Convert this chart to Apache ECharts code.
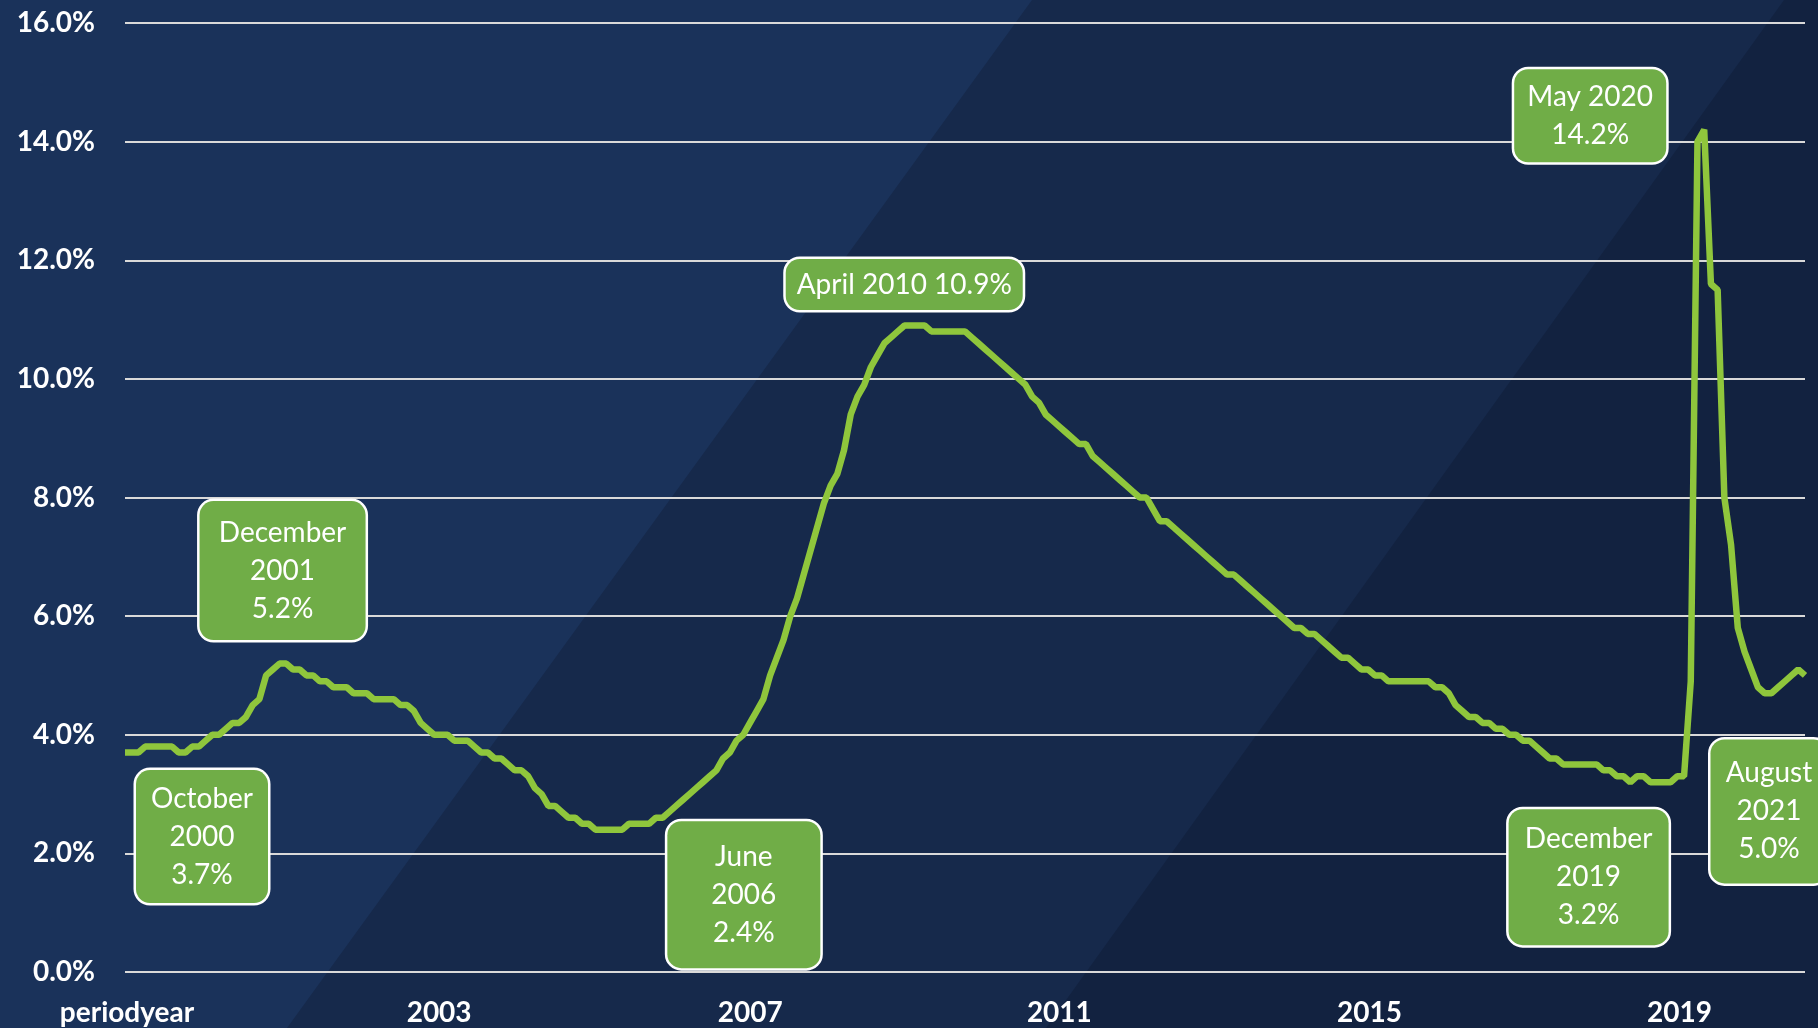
<!DOCTYPE html>
<html>
<head>
<meta charset="utf-8">
<title>Unemployment rate</title>
<script src="https://cdn.jsdelivr.net/npm/echarts@6.0.0/dist/echarts.min.js"></script>
<style>
  html, body { margin: 0; padding: 0; background: #16294b; }
  #chart { width: 1818px; height: 1028px; }
</style>
</head>
<body>
<div id="chart"></div>
<script type="text/javascript">
// monthly rate (%), October 2000 .. August 2021
var values = [
  3.7, 3.7, 3.7, 3.8, 3.8, 3.8, 3.8, 3.8, 3.7, 3.7,
  3.8, 3.8, 3.9, 4.0, 4.0, 4.1, 4.2, 4.2, 4.3, 4.5,
  4.6, 5.0, 5.1, 5.2, 5.2, 5.1, 5.1, 5.0, 5.0, 4.9,
  4.9, 4.8, 4.8, 4.8, 4.7, 4.7, 4.7, 4.6, 4.6, 4.6,
  4.6, 4.5, 4.5, 4.4, 4.2, 4.1, 4.0, 4.0, 4.0, 3.9,
  3.9, 3.9, 3.8, 3.7, 3.7, 3.6, 3.6, 3.5, 3.4, 3.4,
  3.3, 3.1, 3.0, 2.8, 2.8, 2.7, 2.6, 2.6, 2.5, 2.5,
  2.4, 2.4, 2.4, 2.4, 2.4, 2.5, 2.5, 2.5, 2.5, 2.6,
  2.6, 2.7, 2.8, 2.9, 3.0, 3.1, 3.2, 3.3, 3.4, 3.6,
  3.7, 3.9, 4.0, 4.2, 4.4, 4.6, 5.0, 5.3, 5.6, 6.0,
  6.3, 6.7, 7.1, 7.5, 7.9, 8.2, 8.4, 8.8, 9.4, 9.7,
  9.9, 10.2, 10.4, 10.6, 10.7, 10.8, 10.9, 10.9, 10.9, 10.9,
  10.8, 10.8, 10.8, 10.8, 10.8, 10.8, 10.7, 10.6, 10.5, 10.4,
  10.3, 10.2, 10.1, 10.0, 9.9, 9.7, 9.6, 9.4, 9.3, 9.2,
  9.1, 9.0, 8.9, 8.9, 8.7, 8.6, 8.5, 8.4, 8.3, 8.2,
  8.1, 8.0, 8.0, 7.8, 7.6, 7.6, 7.5, 7.4, 7.3, 7.2,
  7.1, 7.0, 6.9, 6.8, 6.7, 6.7, 6.6, 6.5, 6.4, 6.3,
  6.2, 6.1, 6.0, 5.9, 5.8, 5.8, 5.7, 5.7, 5.6, 5.5,
  5.4, 5.3, 5.3, 5.2, 5.1, 5.1, 5.0, 5.0, 4.9, 4.9,
  4.9, 4.9, 4.9, 4.9, 4.9, 4.8, 4.8, 4.7, 4.5, 4.4,
  4.3, 4.3, 4.2, 4.2, 4.1, 4.1, 4.0, 4.0, 3.9, 3.9,
  3.8, 3.7, 3.6, 3.6, 3.5, 3.5, 3.5, 3.5, 3.5, 3.5,
  3.4, 3.4, 3.3, 3.3, 3.2, 3.3, 3.3, 3.2, 3.2, 3.2,
  3.2, 3.3, 3.3, 4.9, 14.0, 14.2, 11.6, 11.5, 8.0, 7.2,
  5.8, 5.4, 5.1, 4.8, 4.7, 4.7, 4.8, 4.9, 5.0, 5.1, 5.0
];

var monthNames = ['January', 'February', 'March', 'April', 'May', 'June', 'July',
  'August', 'September', 'October', 'November', 'December'];
var categories = values.map(function (v, i) {
  var m = 9 + i;
  return monthNames[m % 12] + ' ' + (2000 + Math.floor(m / 12));
});

// x tick labels as printed, one every labelStep months
var tickLabels = ['periodyear', '2003', '2007', '2011', '2015', '2019'];
var labelStep = 46;

// callouts
var annoIndex = [0, 23, 72, 117, 235, 230, 250];
var annoText = [
  'October\n2000\n3.7%',
  'December\n2001\n5.2%',
  'June\n2006\n2.4%',
  'April 2010 10.9%',
  'May 2020\n14.2%',
  'December\n2019\n3.2%',
  'August\n2021\n5.0%'
];

// callout box placement: offset from point, width, vertical padding
var annoBox = [
  { offset: [77, 84], w: 132, pad: 9.5 },
  { offset: [3, -93], w: 166, pad: 12.5 },
  { offset: [135, 65], w: 153, pad: 16.5 },
  { offset: [-7, -41], w: 237, pad: 6.5 },
  { offset: [-114, -14], w: 152, pad: 8.5 },
  { offset: [-82, 95], w: 160, pad: 11 },
  { offset: [-36, 136], w: 117, pad: 15 }
];

// small nudge of the year labels (px), the original places them a bit right
var labelNudge = [2, 5, 7, 7, 8, 9];

var labelFont = { color: '#ffffff', fontFamily: 'Lato', fontWeight: 'bold', fontSize: 28 };
var xRich = {};
labelNudge.forEach(function (n, k) {
  xRich['s' + k] = Object.assign({ padding: [0, 0, 0, 2 * n] }, labelFont);
});

var chart = echarts.init(document.getElementById('chart'));

var option = {
  animation: false,
  backgroundColor: '#16294b',
  graphic: [
    {
      type: 'polygon', z: -10, silent: true,
      shape: { points: [[0, 0], [1032, 0], [287, 1028], [0, 1028]] },
      style: { fill: '#1a325a' }
    },
    {
      type: 'polygon', z: -10, silent: true,
      shape: { points: [[1784, 0], [1818, 0], [1818, 1028], [1046, 1028]] },
      style: { fill: '#122240' }
    }
  ],
  grid: { left: 125, right: 13, top: 23, bottom: 56, containLabel: false },
  xAxis: {
    type: 'category',
    data: categories,
    boundaryGap: false,
    axisLine: { show: false },
    axisTick: { show: false },
    splitLine: { show: false },
    axisLabel: Object.assign({
      interval: labelStep - 1,
      margin: 27,
      rich: xRich,
      formatter: function (value) {
        var k = categories.indexOf(value) / labelStep;
        if (!tickLabels[k]) return '';
        return '{s' + k + '|' + tickLabels[k] + '}';
      }
    }, labelFont)
  },
  yAxis: {
    type: 'value',
    min: 0,
    max: 16,
    interval: 2,
    axisLine: { show: false },
    axisTick: { show: false },
    splitLine: { lineStyle: { color: '#d9d9d9', width: 2 } },
    axisLabel: Object.assign({
      margin: 30,
      formatter: function (v) { return v.toFixed(1) + '%'; }
    }, labelFont)
  },
  series: [{
    type: 'line',
    data: values,
    symbol: 'none',
    showSymbol: false,
    z: 3,
    lineStyle: { color: '#8fc63c', width: 6.5 },
    markPoint: {
      symbol: 'circle',
      symbolSize: 1,
      itemStyle: { color: 'rgba(0,0,0,0)' },
      label: {
        show: true,
        position: 'inside',
        color: '#ffffff',
        fontFamily: 'Lato',
        fontSize: 28,
        lineHeight: 38,
        align: 'center',
        verticalAlign: 'middle',
        backgroundColor: '#70ad47',
        borderColor: '#ffffff',
        borderWidth: 2.5,
        borderRadius: 14
      },
      data: annoIndex.map(function (idx, k) {
        var b = annoBox[k];
        return {
          coord: [categories[idx], values[idx]],
          value: values[idx],
          label: {
            formatter: annoText[k],
            offset: b.offset,
            width: b.w,
            padding: [b.pad + 2.5, 0, b.pad - 2.5, 0]
          }
        };
      })
    }
  }]
};

chart.setOption(option);
</script>
</body>
</html>
